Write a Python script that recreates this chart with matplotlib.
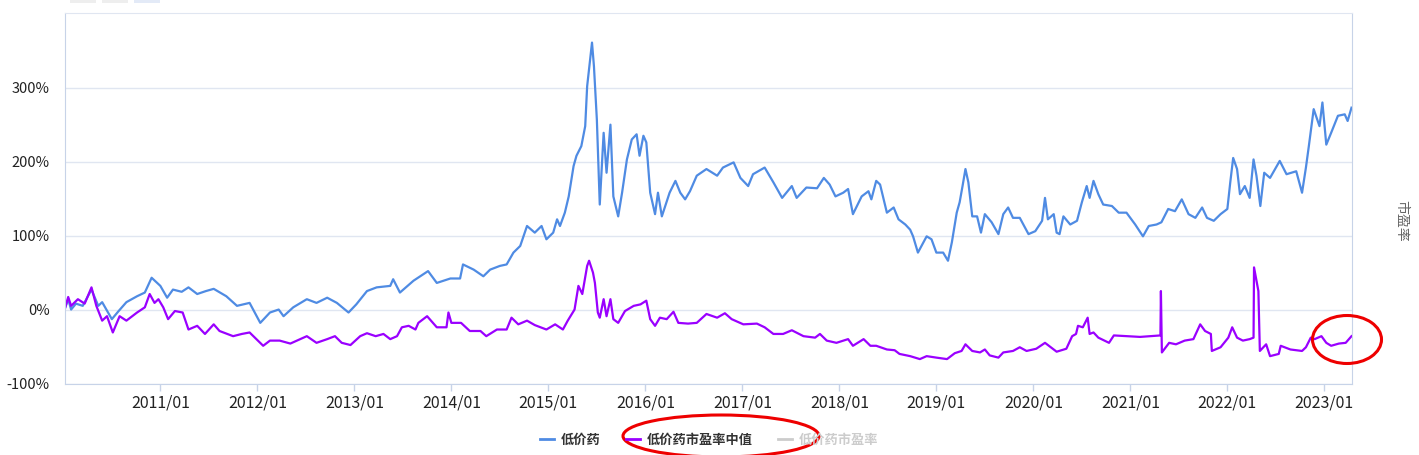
import matplotlib
matplotlib.use('Agg')
import matplotlib.pyplot as plt
from matplotlib.lines import Line2D
from matplotlib.patches import Ellipse, Rectangle

plt.rcParams['font.family'] = ['Noto Sans CJK SC', 'DejaVu Sans']

# 低价药 (cumulative return, %), x = decimal year
t_price = [2010.02, 2010.05, 2010.08, 2010.13, 2010.20, 2010.29, 2010.36, 2010.40, 2010.50, 2010.57,
           2010.65, 2010.76, 2010.84, 2010.91, 2010.96, 2011.00, 2011.07, 2011.13, 2011.22, 2011.29,
           2011.38, 2011.47, 2011.55, 2011.68, 2011.79, 2011.92, 2012.03, 2012.13, 2012.22, 2012.27,
           2012.37, 2012.51, 2012.61, 2012.72, 2012.82, 2012.94, 2013.02, 2013.13, 2013.23, 2013.37,
           2013.40, 2013.47, 2013.61, 2013.76, 2013.85, 2013.99, 2014.09, 2014.12, 2014.23, 2014.33,
           2014.40, 2014.50, 2014.57, 2014.64, 2014.71, 2014.78, 2014.86, 2014.93, 2014.98, 2015.05,
           2015.09, 2015.12, 2015.17, 2015.21, 2015.26, 2015.29, 2015.34, 2015.38, 2015.40, 2015.43,
           2015.45, 2015.47, 2015.50, 2015.53, 2015.57, 2015.60, 2015.64, 2015.67, 2015.72, 2015.76,
           2015.81, 2015.86, 2015.91, 2015.94, 2015.98, 2016.01, 2016.05, 2016.10, 2016.13, 2016.17,
           2016.25, 2016.31, 2016.36, 2016.41, 2016.46, 2016.53, 2016.63, 2016.74, 2016.80, 2016.91,
           2016.98, 2017.06, 2017.11, 2017.23, 2017.32, 2017.41, 2017.51, 2017.56, 2017.66, 2017.77,
           2017.84, 2017.90, 2017.96, 2018.04, 2018.09, 2018.14, 2018.23, 2018.30, 2018.33, 2018.38,
           2018.42, 2018.49, 2018.56, 2018.61, 2018.68, 2018.73, 2018.76, 2018.81, 2018.90, 2018.95,
           2019.00, 2019.07, 2019.12, 2019.16, 2019.21, 2019.24, 2019.27, 2019.30, 2019.33, 2019.37,
           2019.42, 2019.46, 2019.50, 2019.57, 2019.64, 2019.69, 2019.74, 2019.79, 2019.86, 2019.95,
           2020.02, 2020.09, 2020.12, 2020.15, 2020.21, 2020.24, 2020.27, 2020.31, 2020.38, 2020.45,
           2020.50, 2020.55, 2020.58, 2020.62, 2020.67, 2020.72, 2020.81, 2020.88, 2020.96, 2021.05,
           2021.13, 2021.19, 2021.27, 2021.32, 2021.39, 2021.46, 2021.53, 2021.60, 2021.67, 2021.74,
           2021.79, 2021.86, 2021.93, 2022.00, 2022.03, 2022.06, 2022.10, 2022.13, 2022.18, 2022.23,
           2022.27, 2022.30, 2022.34, 2022.38, 2022.44, 2022.54, 2022.61, 2022.71, 2022.77, 2022.81,
           2022.84, 2022.89, 2022.95, 2022.98, 2023.02, 2023.07, 2023.14, 2023.21, 2023.24, 2023.28]
v_price = [3, 14, 0, 8, 5, 27, 5, 10, -13, -2,
           10, 18, 23, 43, 37, 32, 16, 27, 24, 30,
           21, 25, 28, 18, 5, 9, -18, -4, 0, -9,
           3, 14, 9, 16, 9, -4, 7, 25, 30, 32,
           41, 23, 39, 52, 36, 42, 42, 61, 54, 45,
           54, 59, 61, 77, 86, 113, 104, 113, 95, 104,
           122, 113, 131, 153, 194, 208, 221, 248, 302, 338,
           361, 329, 257, 142, 239, 185, 250, 153, 126, 158,
           203, 230, 237, 208, 235, 226, 158, 129, 158, 126,
           158, 174, 158, 149, 160, 181, 190, 181, 192, 199,
           178, 167, 183, 192, 172, 151, 167, 151, 165, 164,
           178, 169, 153, 158, 163, 129, 153, 160, 149, 174,
           169, 131, 138, 122, 115, 108, 99, 77, 99, 95,
           77, 77, 66, 91, 131, 145, 167, 190, 172, 126,
           126, 104, 129, 118, 102, 129, 138, 124, 124, 102,
           106, 120, 151, 122, 129, 104, 102, 126, 115, 120,
           145, 167, 151, 174, 156, 142, 140, 131, 131, 115,
           99, 113, 115, 118, 136, 133, 149, 129, 124, 138,
           124, 120, 129, 136, 172, 205, 190, 156, 167, 151,
           203, 181, 140, 185, 178, 201, 183, 187, 158, 192,
           221, 271, 248, 280, 223, 239, 262, 264, 255, 273]

# 低价药市盈率中值 (%)
t_pe = [2010.02, 2010.05, 2010.08, 2010.15, 2010.22, 2010.29, 2010.34, 2010.40, 2010.45, 2010.51,
        2010.58, 2010.65, 2010.76, 2010.84, 2010.89, 2010.94, 2010.98, 2011.03, 2011.08, 2011.15,
        2011.23, 2011.29, 2011.38, 2011.46, 2011.55, 2011.61, 2011.75, 2011.84, 2011.92, 2012.06,
        2012.13, 2012.23, 2012.34, 2012.51, 2012.61, 2012.72, 2012.80, 2012.87, 2012.96, 2013.06,
        2013.13, 2013.22, 2013.30, 2013.37, 2013.44, 2013.49, 2013.56, 2013.63, 2013.66, 2013.75,
        2013.85, 2013.95, 2013.97, 2014.00, 2014.10, 2014.19, 2014.30, 2014.36, 2014.47, 2014.57,
        2014.62, 2014.69, 2014.78, 2014.86, 2014.98, 2015.07, 2015.15, 2015.20, 2015.27, 2015.31,
        2015.35, 2015.40, 2015.42, 2015.46, 2015.48, 2015.51, 2015.53, 2015.57, 2015.60, 2015.64,
        2015.67, 2015.72, 2015.79, 2015.88, 2015.95, 2016.01, 2016.05, 2016.10, 2016.15, 2016.22,
        2016.29, 2016.34, 2016.44, 2016.53, 2016.63, 2016.74, 2016.82, 2016.89, 2017.01, 2017.15,
        2017.23, 2017.32, 2017.42, 2017.51, 2017.63, 2017.75, 2017.80, 2017.87, 2017.97, 2018.09,
        2018.14, 2018.25, 2018.32, 2018.38, 2018.49, 2018.57, 2018.62, 2018.73, 2018.83, 2018.90,
        2019.00, 2019.11, 2019.19, 2019.26, 2019.30, 2019.37, 2019.45, 2019.50, 2019.55, 2019.64,
        2019.69, 2019.79, 2019.86, 2019.93, 2020.03, 2020.12, 2020.17, 2020.24, 2020.34, 2020.40,
        2020.44, 2020.46, 2020.51, 2020.56, 2020.58, 2020.62, 2020.67, 2020.78, 2020.83, 2020.96,
        2021.10, 2021.31, 2021.315, 2021.325, 2021.40, 2021.47, 2021.56, 2021.65, 2021.72, 2021.77,
        2021.83, 2021.84, 2021.93, 2022.01, 2022.05, 2022.10, 2022.16, 2022.23, 2022.27, 2022.275,
        2022.285, 2022.30, 2022.32, 2022.335, 2022.40, 2022.44, 2022.53, 2022.55, 2022.65, 2022.77,
        2022.81, 2022.86, 2022.90, 2022.97, 2023.02, 2023.07, 2023.15, 2023.22, 2023.28]
v_pe = [3, 17, 5, 14, 8, 30, 5, -15, -9, -31,
        -9, -15, -4, 3, 21, 9, 14, 3, -13, -2,
        -4, -27, -22, -33, -20, -29, -36, -33, -31, -49,
        -42, -42, -46, -36, -45, -40, -36, -45, -48, -36,
        -32, -36, -33, -40, -36, -24, -22, -27, -18, -9,
        -24, -24, -4, -18, -18, -29, -29, -36, -27, -27,
        -11, -20, -15, -21, -27, -20, -27, -15, 0, 32,
        21, 59, 66, 50, 36, -4, -11, 14, -9, 14,
        -13, -18, -2, 5, 7, 12, -13, -22, -11, -13,
        -3, -18, -19, -18, -6, -11, -5, -13, -20, -19,
        -24, -33, -33, -28, -36, -38, -33, -42, -45, -40,
        -49, -40, -49, -49, -54, -55, -60, -63, -67, -63,
        -65, -67, -59, -56, -47, -56, -58, -54, -62, -65,
        -58, -56, -51, -56, -53, -45, -50, -57, -53, -36,
        -33, -22, -24, -11, -33, -31, -38, -45, -35, -36,
        -37, -35, 25, -58, -45, -47, -42, -40, -20, -29,
        -33, -56, -51, -38, -24, -38, -42, -40, -38, 57,
        50, 39, 25, -56, -47, -63, -60, -49, -54, -56,
        -51, -38, -40, -36, -45, -49, -46, -45, -36]

year_ticks = [2011, 2012, 2013, 2014, 2015, 2016, 2017, 2018, 2019, 2020, 2021, 2022, 2023]
year_labels = ['2011/01', '2012/01', '2013/01', '2014/01', '2015/01', '2016/01', '2017/01',
               '2018/01', '2019/01', '2020/01', '2021/01', '2022/01', '2023/01']
pct_ticks = [-100, 0, 100, 200, 300]
pct_labels = ['-100%', '0%', '100%', '200%', '300%']
legend_names = ['低价药', '低价药市盈率中值', '低价药市盈率']

W, H = 1419, 455
fig = plt.figure(figsize=(W / 100, H / 100), dpi=100)
ax = fig.add_axes([65 / W, 1 - 383.5 / H, (1352 - 65) / W, (383.5 - 13) / H])

ax.plot(t_price, v_price, color='#4f8be3', lw=1.6)
ax.plot(t_pe, v_pe, color='#9a00ff', lw=1.6)

ax.set_xlim(2010.017, 2023.285)
ax.set_ylim(-100, 401)
ax.set_xticks(year_ticks)
ax.set_xticklabels(year_labels, fontsize=11.5, color='#222')
ax.set_yticks(pct_ticks)
ax.set_yticklabels(pct_labels, fontsize=10.5, color='#222')
ax.tick_params(axis='y', length=0, pad=11)
ax.tick_params(axis='x', length=5, width=1, color='#c7d3e8', pad=3)
ax.grid(axis='y', color='#e0e6f1', lw=1)
ax.set_axisbelow(True)
for side in ['left', 'bottom', 'right']:
    ax.spines[side].set_color('#c7d3e8')
ax.spines['top'].set_color('#e0e6f1')

# right axis name
fig.text(1401 / W, 1 - 221 / H, '市盈率', rotation=-90, fontsize=10, color='#666',
         ha='center', va='center')

# legend at the bottom
handles = [Line2D([], [], color='#4f8be3', lw=2),
           Line2D([], [], color='#9a00ff', lw=2),
           Line2D([], [], color='#cccccc', lw=2)]
leg = fig.legend(handles, legend_names, loc='center', bbox_to_anchor=(709 / W, 1 - 440 / H),
                 ncol=3, frameon=False, handlelength=1.1, handletextpad=0.5,
                 columnspacing=1.9, prop={'weight': 'bold', 'size': 9.5})
colors = ['#333333', '#333333', '#cccccc']
for txt, c in zip(leg.get_texts(), colors):
    txt.set_color(c)

# small boxes cut off at the top
for x0, c in [(70, '#eeeeee'), (102, '#eeeeee'), (134, '#e3eaf7')]:
    fig.patches.append(Rectangle((x0 / W, 1 - 3 / H), 26 / W, 3 / H, transform=fig.transFigure,
                                 facecolor=c, edgecolor='none'))

# red hand-drawn marks
fig.patches.append(Ellipse((721 / W, 1 - 436 / H), 196 / W, 42 / H, transform=fig.transFigure,
                           fill=False, edgecolor='#ee0000', lw=2.2))
fig.patches.append(Ellipse((1347 / W, 1 - 339.5 / H), 69 / W, 48 / H, transform=fig.transFigure,
                           fill=False, edgecolor='#ee0000', lw=2.2))

plt.savefig('out.png', dpi=100)
